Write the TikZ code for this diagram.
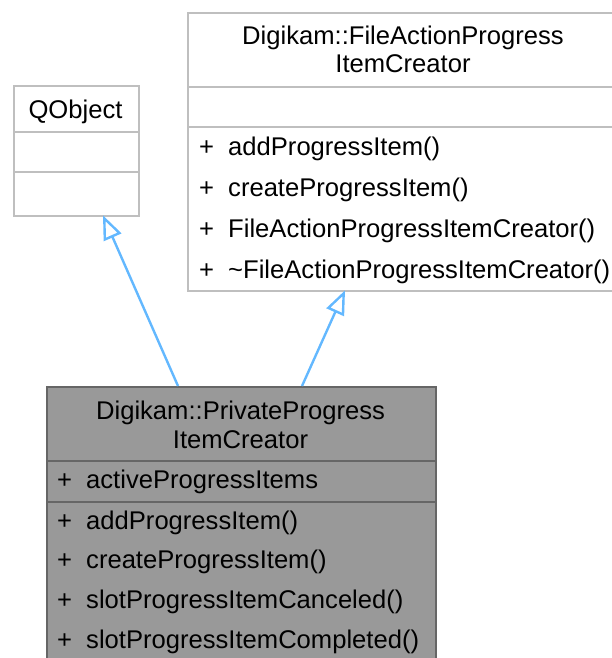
\documentclass[tikz,border=0pt]{standalone}
\usepackage{fontspec}
\setmainfont{Liberation Sans}
\usetikzlibrary{arrows.meta,calc}
\definecolor{edgeblue}{HTML}{63B8FF}
\definecolor{lightborder}{HTML}{BFBFBF}
\definecolor{darkborder}{HTML}{666666}
\definecolor{grayfill}{HTML}{999999}
\tikzset{
  classbox/.style={draw=lightborder, fill=white, line width=2.4pt, inner sep=0pt, anchor=north west},
  curbox/.style={draw=darkborder, fill=grayfill, line width=2.4pt, inner sep=0pt, anchor=north west},
  txt/.style={inner sep=0pt, font=\fontsize{25.6}{30}\selectfont},
  ttl/.style={txt, anchor=base},
  mem/.style={txt, anchor=base west},
  inherit/.style={draw=edgeblue, line width=2.4pt, -{Triangle[open, length=24pt, width=19pt, line width=2.4pt]}}
}
\begin{document}
\begin{tikzpicture}[x=1pt, y=-1pt]
\useasboundingbox (0,0) rectangle (611,658);
% QObject
\node[classbox, minimum width=125pt, minimum height=130pt] (qobj) at (13,85) {};
\draw[lightborder, line width=2.4pt] (13,132) -- (138,132) (13,172) -- (138,172);
\node[ttl] (qobjt) at (75.5,118) {QObject};
% FileActionProgressItemCreator
\node[classbox, minimum width=432pt, minimum height=278pt] (fap) at (187,12) {};
\draw[lightborder, line width=2.4pt] (187,87) -- (619,87) (187,127) -- (619,127);
\node[ttl] (fapt1) at (403,45) {Digikam::FileActionProgress};
\node[ttl] (fapt2) at (403,73) {ItemCreator};
\foreach \y/\t [count=\i] in {155/addProgressItem(), 196/createProgressItem(), 237/FileActionProgressItemCreator(), 278/{\textasciitilde FileActionProgressItemCreator()}} {
  \node[mem] (fapp\i) at (199,\y) {+};
  \node[mem] (fapm\i) at (228,\y) {\t};
}
% PrivateProgressItemCreator
\node[curbox, minimum width=389pt, minimum height=300pt] (ppic) at (46,386) {};
\draw[darkborder, line width=2.4pt] (46,461) -- (435,461) (46,502) -- (435,502);
\node[ttl] (ppict1) at (240.5,419) {Digikam::PrivateProgress};
\node[ttl] (ppict2) at (240.5,448) {ItemCreator};
\node[mem] (ppa) at (57,488) {+};
\node[mem] (ppam) at (86,488) {activeProgressItems};
\foreach \y/\t [count=\i] in {529/addProgressItem(), 568/createProgressItem(), 608/slotProgressItemCanceled(), 648/slotProgressItemCompleted()} {
  \node[mem] (ppp\i) at (57,\y) {+};
  \node[mem] (ppm\i) at (86,\y) {\t};
}
% inheritance
\coordinate (s1) at ($(ppic.north west)+(132,0)$);
\coordinate (e1) at ($(qobj.south west)+(90,-2)$);
\coordinate (s2) at ($(ppic.north west)+(256,0)$);
\coordinate (e2) at ($(fap.south west)+(158,-2)$);
\draw[inherit] (s1) -- (e1);
\draw[inherit] (s2) -- (e2);
\end{tikzpicture}
\end{document}
